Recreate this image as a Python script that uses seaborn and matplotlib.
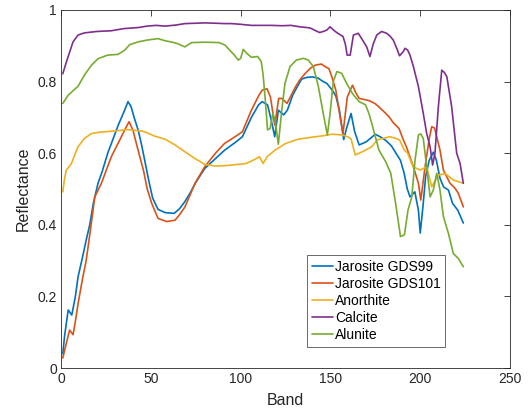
import numpy as np
import pandas as pd
import matplotlib
matplotlib.use("Agg")
import matplotlib.pyplot as plt
import seaborn as sns

# spectra (band, reflectance)
names = ['Jarosite GDS99', 'Jarosite GDS101', 'Anorthite', 'Calcite', 'Alunite']

band_jar99 = [1, 2, 4, 6, 8, 9.5, 12, 14, 16, 18, 20.6, 23, 26, 29, 32, 35, 37.3, 39, 41, 43, 45, 47, 49, 51,
              54, 58, 63, 66, 69, 72, 75, 80, 86, 91, 97, 101, 106, 110, 112, 115, 117, 119, 121, 124, 126,
              129, 132, 134, 137, 140, 143, 146, 148, 151, 153, 155, 157.4, 159, 161.5, 163.5, 166, 170, 175,
              178, 181, 184, 186.5, 189, 191, 192.8, 194.3, 197, 199, 200, 201.5, 203, 205, 207.3, 209, 211,
              213, 215.7, 218, 221, 224]
refl_jar99 = [0.04, 0.09, 0.162, 0.148, 0.2, 0.255, 0.31, 0.357, 0.40, 0.46, 0.516, 0.55, 0.60, 0.64, 0.68,
              0.715, 0.744, 0.73, 0.695, 0.664, 0.62, 0.57, 0.52, 0.475, 0.443, 0.434, 0.432, 0.445, 0.465,
              0.49, 0.518, 0.557, 0.585, 0.608, 0.63, 0.646, 0.70, 0.735, 0.744, 0.735, 0.693, 0.646, 0.72,
              0.707, 0.72, 0.762, 0.79, 0.807, 0.812, 0.813, 0.81, 0.80, 0.795, 0.776, 0.76, 0.72, 0.638,
              0.67, 0.711, 0.66, 0.623, 0.632, 0.653, 0.645, 0.635, 0.62, 0.60, 0.58, 0.545, 0.50, 0.478,
              0.492, 0.44, 0.377, 0.45, 0.535, 0.58, 0.603, 0.58, 0.53, 0.506, 0.497, 0.46, 0.44, 0.405]

band_jar101 = [1, 3, 4.8, 6.7, 8, 9.5, 12, 14, 16.5, 18.8, 22.5, 25, 28, 31, 33.6, 36, 37.9, 40, 42.9, 46,
               48, 50.5, 54, 58.8, 63.5, 66, 69, 72, 74.6, 80, 86, 91, 96, 101, 106, 110, 112, 114.7, 116.6,
               119, 121.2, 123, 125.8, 128, 130.5, 133, 136, 139, 141.6, 145, 147, 149.2, 151, 153, 155.7,
               157, 159.4, 162.3, 164, 166, 169, 172, 175, 177, 180, 182.6, 185, 188.2, 190, 192.5, 196.2,
               199, 200.3, 202.7, 205, 206.4, 208, 211, 212.9, 216.6, 219.4, 221.2, 224]
refl_jar101 = [0.028, 0.07, 0.106, 0.093, 0.13, 0.18, 0.25, 0.30, 0.39, 0.478, 0.516, 0.55, 0.59, 0.62,
               0.646, 0.67, 0.688, 0.665, 0.609, 0.55, 0.50, 0.46, 0.418, 0.409, 0.413, 0.428, 0.45, 0.485,
               0.516, 0.562, 0.60, 0.627, 0.643, 0.66, 0.72, 0.76, 0.776, 0.78, 0.757, 0.678, 0.753, 0.753,
               0.739, 0.76, 0.785, 0.805, 0.823, 0.838, 0.846, 0.849, 0.842, 0.836, 0.81, 0.776, 0.692,
               0.655, 0.757, 0.79, 0.77, 0.753, 0.75, 0.746, 0.738, 0.729, 0.715, 0.702, 0.685, 0.669,
               0.645, 0.615, 0.562, 0.516, 0.469, 0.562, 0.64, 0.674, 0.67, 0.609, 0.553, 0.516, 0.502,
               0.488, 0.45]

band_anor = [1, 2, 3, 5.8, 8, 9.5, 13, 17, 22, 30, 37, 45, 48, 52, 58, 63.5, 69, 74.6, 80, 86, 91, 97, 103,
             108, 110.5, 112.5, 114.7, 119.3, 125, 132, 140, 145, 151, 156.6, 160, 161.5, 163.8, 167.8, 173,
             176, 179, 183, 186, 188.5, 191, 193, 196, 200, 203.6, 206.4, 210, 214, 218.4, 224]
refl_anor = [0.492, 0.53, 0.553, 0.571, 0.60, 0.618, 0.641, 0.655, 0.659, 0.662, 0.666, 0.662, 0.657, 0.648,
             0.639, 0.623, 0.604, 0.585, 0.569, 0.564, 0.565, 0.568, 0.571, 0.583, 0.59, 0.571, 0.59, 0.609,
             0.627, 0.639, 0.645, 0.648, 0.653, 0.651, 0.645, 0.64, 0.595, 0.604, 0.618, 0.637, 0.641, 0.646,
             0.642, 0.637, 0.61, 0.60, 0.562, 0.553, 0.562, 0.506, 0.539, 0.543, 0.525, 0.516]

band_calc = [1, 3, 4, 6.7, 9.5, 13, 20, 28, 35, 43, 48, 53, 58, 64, 69, 75, 80, 86, 91, 95, 100, 106, 112,
             117.5, 123, 128, 133, 138.6, 141, 144, 146, 148, 149.8, 151.5, 153.5, 157, 158.3, 159.3, 161,
             162.8, 165.5, 167.4, 170.2, 172, 173.9, 175.8, 178.5, 181.3, 183, 185, 186.9, 188.5, 190.6,
             191.5, 193, 194.3, 196.2, 199, 201.7, 203.6, 205.5, 206.9, 208.2, 210.1, 212, 213.5, 214.8,
             217.5, 220.3, 222.2, 224]
refl_calc = [0.822, 0.855, 0.87, 0.911, 0.93, 0.936, 0.94, 0.942, 0.948, 0.951, 0.955, 0.957, 0.955, 0.958,
             0.962, 0.963, 0.964, 0.963, 0.962, 0.962, 0.96, 0.957, 0.957, 0.957, 0.956, 0.957, 0.953, 0.95,
             0.944, 0.937, 0.94, 0.944, 0.953, 0.945, 0.937, 0.926, 0.905, 0.874, 0.874, 0.93, 0.935, 0.92,
             0.897, 0.87, 0.906, 0.93, 0.94, 0.935, 0.928, 0.916, 0.893, 0.872, 0.884, 0.893, 0.888, 0.874,
             0.842, 0.786, 0.711, 0.655, 0.618, 0.567, 0.60, 0.73, 0.832, 0.825, 0.814, 0.73, 0.60, 0.571,
             0.516]

band_alun = [1, 4, 9.5, 13, 17, 20.6, 26, 31.7, 35.5, 38.2, 43, 48, 51, 54, 58, 62, 65, 67.5, 69, 70.5,
             72.8, 80, 88, 91.3, 93.5, 96.5, 98.7, 100, 101.5, 103.4, 106, 109.5, 111.5, 112.5, 113.6, 115,
             116.4, 117.9, 119.2, 121, 122.9, 124.7, 127.5, 131, 135, 137.7, 140.5, 143.3, 146, 148.3, 149.8,
             151.6, 153.6, 156.3, 159, 162.5, 166, 169.6, 171.5, 173.3, 177, 180.8, 183.6, 186.3, 189, 191.2,
             193.2, 195.3, 197.1, 199, 200.3, 201.7, 203.6, 205.5, 207.3, 209.2, 211, 212.9, 215.7, 218.4,
             221.2, 224]
refl_alun = [0.739, 0.762, 0.787, 0.818, 0.846, 0.864, 0.874, 0.876, 0.888, 0.903, 0.911, 0.916, 0.918, 0.92,
             0.914, 0.91, 0.906, 0.9, 0.897, 0.902, 0.909, 0.91, 0.909, 0.902, 0.89, 0.874, 0.86, 0.865, 0.89,
             0.879, 0.868, 0.87, 0.856, 0.82, 0.757, 0.665, 0.669, 0.711, 0.693, 0.625, 0.72, 0.795, 0.842,
             0.86, 0.865, 0.86, 0.842, 0.786, 0.711, 0.651, 0.711, 0.80, 0.828, 0.823, 0.795, 0.765, 0.744,
             0.735, 0.71, 0.678, 0.609, 0.576, 0.544, 0.46, 0.367, 0.372, 0.441, 0.478, 0.58, 0.651, 0.654,
             0.641, 0.562, 0.478, 0.497, 0.544, 0.497, 0.423, 0.376, 0.32, 0.306, 0.283]

colors = ['#0072BD', '#D95319', '#EDB120', '#7E2F8E', '#77AC30']

bands = [band_jar99, band_jar101, band_anor, band_calc, band_alun]
refls = [refl_jar99, refl_jar101, refl_anor, refl_calc, refl_alun]
df = pd.concat([pd.DataFrame({'Band': b, 'Reflectance': r, 'name': n})
                for b, r, n in zip(bands, refls, names)], ignore_index=True)

sns.set_theme(style='white')
plt.rcParams['font.family'] = ['Liberation Sans', 'DejaVu Sans']
plt.rcParams['xtick.direction'] = 'in'
plt.rcParams['ytick.direction'] = 'in'

fig = plt.figure(figsize=(5.31, 4.11), dpi=100)
ax = fig.add_axes([0.1149, 0.1046, 0.8456, 0.8711])

sns.lineplot(data=df, x='Band', y='Reflectance', hue='name', palette=colors,
             estimator=None, sort=True, linewidth=1.2, ax=ax)

ax.set_xlim(0, 250)
ax.set_ylim(0, 1)
ax.set_xticks([0, 50, 100, 150, 200, 250])
ax.set_yticks([0, 0.2, 0.4, 0.6, 0.8, 1])
ax.set_yticklabels(['0', '0.2', '0.4', '0.6', '0.8', '1'])
dark = '#262626'
ax.tick_params(axis='both', which='both', direction='in', length=4, width=0.6,
               top=True, right=True, labelsize=10, colors=dark, pad=3)
for s in ax.spines.values():
    s.set_color(dark)
    s.set_linewidth(0.6)
ax.set_xlabel('Band', fontsize=11.5, color=dark, labelpad=5)
ax.set_ylabel('Reflectance', fontsize=11.5, color=dark, labelpad=5)

handles, labels = ax.get_legend_handles_labels()
leg = ax.legend(handles, names, loc='upper left', bbox_to_anchor=(0.548, 0.3156),
                borderaxespad=0, fontsize=10, frameon=True, fancybox=False,
                labelspacing=0.22, handlelength=1.5, handletextpad=0.15,
                borderpad=0.35, edgecolor=dark)
leg.get_frame().set_linewidth(0.6)
for t in leg.get_texts():
    t.set_color('black')

fig.savefig('out.png', dpi=100)
